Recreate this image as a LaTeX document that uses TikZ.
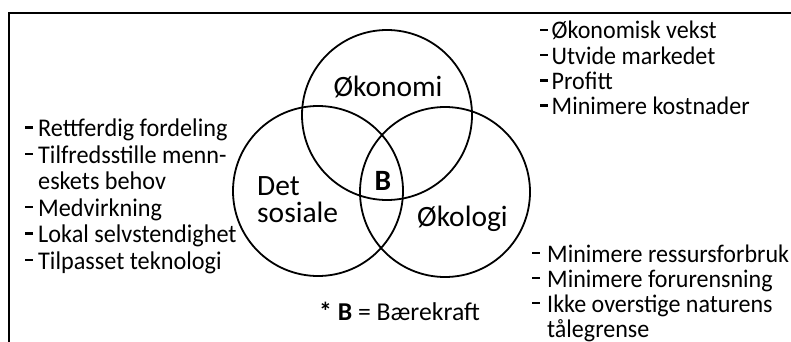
\documentclass[tikz,border=0pt]{standalone}
\usepackage{fontspec}
\setmainfont{Carlito}
\newfontfamily\listfont[FakeStretch=0.95]{Carlito}
\newcommand{\listdash}[1]{\makebox[#1][l]{\rule[8pt]{7.5pt}{2.4pt}}}
\begin{document}
\begin{tikzpicture}[x=1pt,y=-1pt,
  ring/.style={circle,draw,line width=1.8pt,minimum size=170pt,inner sep=0pt},
  lbl/.style={anchor=base west,inner sep=0pt,font=\fontsize{29.5}{27}\selectfont},
  frame/.style={line width=1.6pt}]
\useasboundingbox (0,0) rectangle (791,342);
\clip (0,0) rectangle (791,342);
\draw[frame] (9,360) -- (9,13) -- (800,13);
% circles
\node[ring] (oko) at (387,115) {};
\node[ring] (sos) at (318,191) {};
\node[ring] (eko) at (445,192) {};
% circle labels
\node[lbl,anchor=base] (tOko) at (388,97) {Økonomi};
\node[lbl] (tDet) at (257,195) {Det};
\node[lbl] (tSos) at (257,222) {sosiale};
\node[lbl] (tEko) at (417,226) {Økologi};
\node[lbl,anchor=base,font=\fontsize{29.5}{27}\selectfont\bfseries] (tB) at (383,190) {B};
\node[anchor=base west,inner sep=0pt,font=\fontsize{25.7}{27}\selectfont] (legend) at (319,320) {\textbf{* B} = Bærekraft};
% lists
\node[anchor=base west,inner sep=0pt] (left) at (25,136.5) {\listfont\fontsize{25.5}{26.5}\selectfont
  \begin{tabular}[t]{@{}l@{}l@{}}
  \listdash{13pt}&Rettferdig fordeling\\
  \listdash{13pt}&Tilfredsstille menn-\\
   &eskets behov\\
  \listdash{13pt}&Medvirkning\\
  \listdash{13pt}&Lokal selvstendighet\\
  \listdash{13pt}&Tilpasset teknologi
  \end{tabular}};
\node[anchor=base west,inner sep=0pt] (topr) at (540,39) {\listfont\fontsize{25.3}{25.3}\selectfont
  \begin{tabular}[t]{@{}l@{}l@{}}
  \listdash{11.5pt}&Økonomisk vekst\\
  \listdash{11.5pt}&Utvide markedet\\
  \listdash{11.5pt}&Profitt\\
  \listdash{11.5pt}&Minimere kostnader
  \end{tabular}};
\node[anchor=base west,inner sep=0pt] (botr) at (532,262) {\listfont\fontsize{25.3}{25}\selectfont
  \begin{tabular}[t]{@{}l@{}l@{}}
  \listdash{15pt}&Minimere ressursforbruk\\
  \listdash{15pt}&Minimere forurensning\\
  \listdash{15pt}&Ikke overstige naturens\\
   &tålegrense
  \end{tabular}};
\end{tikzpicture}
\end{document}
